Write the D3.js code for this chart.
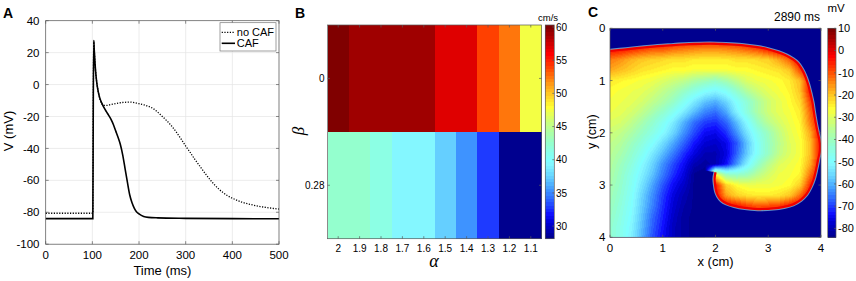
<!DOCTYPE html>
<html><head><meta charset="utf-8">
<script src="https://cdn.jsdelivr.net/npm/d3@7"></script>
<style>
body{margin:0;background:#fff}
svg{display:block}
text{font-family:"Liberation Sans",Arial,Helvetica,sans-serif;fill:#000}
</style>
</head><body>
<svg id="fig" width="856" height="281"></svg>
<script>
// ================= DATA =================
// Panel A : action potentials
const timeNoCAF = [0,101,102,103,104,106,108,110,113,116,120,125,130,140,150,160,170,180,190,200,210,220,230,240,250,260,270,280,290,300,310,320,330,340,350,360,370,380,390,400,420,440,460,480,500];
const vNoCAF    = [-80.6,-80.6,-10,27.5,22,12,5,0,-5,-9,-12,-13.1,-13.1,-12.5,-11.9,-11.4,-11.1,-11,-11.3,-12,-12.7,-13.6,-15,-17.3,-20,-22.8,-26,-29.8,-34,-38.5,-42.7,-47,-51,-55,-58.8,-62.2,-65.2,-67.7,-69.7,-71.2,-73.6,-75.2,-76.4,-77.3,-78];
const timeCAF   = [0,101,102,103,104,106,108,110,113,116,120,125,130,135,140,145,150,155,160,165,170,175,180,185,190,195,200,210,220,240,300,400,500];
const vCAF      = [-84,-84,-10,27.5,22,12,5,0,-5,-8.5,-11.5,-14.5,-17,-19.3,-21.8,-25,-29,-33,-37.5,-44,-52.5,-61,-69,-74,-77.5,-79.8,-81,-82.6,-83.2,-83.5,-83.8,-84,-84.1];
const aXTicks = [0,100,200,300,400,500];
const aYTicks = [-100,-80,-60,-40,-20,0,20,40];
const legendLabels = ["no CAF","CAF"];

// Panel B : conduction velocity (cm/s)
const alphaValues = [2,1.9,1.8,1.7,1.6,1.5,1.4,1.3,1.2,1.1];
const betaLabels  = ["0","0.28"];
const cvBeta0   = [60.3,58.8,58.8,58.8,58.8,57.0,57.0,53.9,52.3,47.6];
const cvBeta028 = [42.4,42.4,41.4,39.4,39.4,37.4,35.4,32.9,28.6,28.1];
const cbBTicks = [30,35,40,45,50,55,60];

// Panel C : membrane potential snapshot (mV), grid step 0.2 cm, rows = y 0..4, cols = x 0..4
const cmTicks = [0,1,2,3,4];
const cbCTicks = [10,0,-10,-20,-30,-40,-50,-60,-70,-80];
const snapshotTime = "2890 ms";
const vGrid = [
[-84,-84,-84,-84,-84,-84,-84,-84,-84,-84,-84,-84,-84,-84,-84,-84,-84,-84,-84,-84,-84],
[-2,-2,-2,-2,-2,-2,-2,-2,-2,-2,-2,-2,-2,-2,-2,-2,-2,-2,-2,-2,-2],
[-3,-4,-6,-8,-10,-10,-12,-13,-14,-15,-15,-14,-13,-11,-9,-5,-2,-2,-2,-2,-2],
[-13,-15,-18,-20,-21,-22,-23,-23,-24,-24,-24,-24,-23,-23,-22,-21,-17,-11,-2,-2,-2],
[-17,-19,-21,-23,-24,-25,-26,-26,-27,-27,-27,-27,-26,-26,-25,-24,-23,-20,-9,-2,-2],
[-24,-25,-26,-27,-28,-30,-32,-34,-37,-39,-41,-38,-34,-30,-28,-27,-26,-24,-19,-3,-2],
[-26,-27,-28,-29,-31,-34,-37,-41,-45,-49,-51,-48,-42,-36,-32,-29,-27,-25,-20,-4,-2],
[-27,-28,-29,-31,-34,-37,-41,-47,-53,-58,-60,-56,-49,-43,-37,-32,-29,-26,-22,-8,-2],
[-28,-29,-31,-34,-38,-42,-47,-53,-59,-64,-66,-61,-52,-44,-37,-32,-29,-27,-24,-11,-2],
[-30,-31,-34,-38,-42,-47,-53,-60,-66,-70,-71,-67,-59,-50,-41,-35,-31,-28,-25,-13,-2],
[-32,-34,-37,-41,-45,-50,-56,-63,-69,-74,-75,-71,-63,-54,-46,-40,-34,-29,-26,-17,-2],
[-34,-36,-40,-44,-49,-55,-61,-67,-73,-77,-78,-75,-68,-58,-48,-41,-35,-30,-27,-19,-3],
[-35,-38,-42,-47,-53,-59,-65,-71,-76,-80,-80,-76,-67,-57,-48,-41,-34,-30,-27,-19,-3],
[-36,-40,-44,-50,-56,-63,-69,-74,-80,-82,-80,-74,-63,-52,-42,-35,-30,-28,-26,-17,-2],
[-37,-41,-46,-52,-58,-65,-71,-76,-83,-84,-25,-40,-42,-40,-35,-31,-28,-27,-25,-12,-2],
[-38,-42,-47,-54,-61,-68,-74,-78,-83,-84,-4,-21,-26,-28,-28,-28,-27,-26,-21,-6,-2],
[-39,-43,-48,-56,-63,-70,-76,-80,-83,-84,-2,-16,-21,-23,-24,-24,-23,-20,-12,-2,-2],
[-40,-44,-49,-57,-64,-71,-77,-81,-83,-84,-2,-2,-4,-8,-10,-9,-8,-4,-2,-2,-84],
[-41,-45,-50,-58,-66,-72,-78,-82,-83,-84,-84,-2,-2,-2,-2,-2,-2,-2,-2,-84,-84],
[-42,-46,-51,-59,-67,-73,-79,-82,-83,-84,-84,-84,-84,-84,-84,-84,-84,-84,-84,-84,-84],
[-42,-46,-52,-60,-68,-74,-79,-82,-83,-84,-84,-84,-84,-84,-84,-84,-84,-84,-84,-84,-84]
];
const gridStep = 0.2;
// wave front (cm)
const frontX = [0,0.3,0.6,0.9,1.2,1.5,1.9,2.2,2.5,2.8,3.0,3.2,3.35,3.47,3.57,3.66,3.73,3.78,3.82,3.86,3.89,3.92,3.95,3.98,4.0,4.0,3.97,3.93,3.88,3.82,3.74,3.63,3.48,3.3,3.1,2.8,2.55,2.35,2.2,2.1,2.03,1.99,1.97,1.96,1.98];
const frontY = [0.41,0.38,0.35,0.32,0.30,0.28,0.27,0.28,0.30,0.34,0.38,0.44,0.50,0.57,0.65,0.78,0.93,1.08,1.24,1.42,1.62,1.80,1.95,2.08,2.2,2.35,2.5,2.7,2.9,3.05,3.19,3.30,3.39,3.44,3.47,3.48,3.46,3.42,3.37,3.31,3.22,3.12,3.0,2.88,2.75];
// closing edge of the excited/recovering region (cm)
const maskX = [1.8,1.8,0];
const maskY = [2.72,4.0,4.0];

// ================= COLORMAP (MATLAB jet, 64) =================
const U = [];
for (let k=1;k<=16;k++) U.push(k/16);
for (let k=0;k<15;k++) U.push(1);
for (let k=16;k>=1;k--) U.push(k/16);
function jet64(i){
  const idx=i+1; let r=0,g=0,b=0;
  const ri=idx-24; if(ri>=1&&ri<=40) r=U[ri-1];
  const gi=idx-8;  if(gi>=1&&gi<=47) g=U[gi-1];
  const bi=idx+8;  if(bi>=1&&bi<=47) b=U[bi-1];
  return [r,g,b];
}
const paleness = d3.scaleLinear()
  .domain([0,0.08,0.15,0.23,0.29,0.35,0.41,0.45,0.62,0.8,1])
  .range([0,0,0.12,0.25,0.4,0.52,0.45,0.38,0.2,0,0]).clamp(true);
function cmapRGB(t){
  const i=Math.max(0,Math.min(63,Math.floor(t*64)));
  const c=jet64(i); const w=paleness((i+0.5)/64);
  return c.map(v=>Math.round(255*(v+(1-v)*w)));
}
function cmap(t){const c=cmapRGB(t);return `rgb(${c[0]},${c[1]},${c[2]})`;}

// ================= DRAW =================
const svg=d3.select('#fig');
const defs=svg.append('defs');
const boxColor="#5a5a5a";

function boxAndTicks(g,x0,x1,y0,y1,xt,yt,len){
  g.append('rect').attr('x',x0).attr('y',y0).attr('width',x1-x0).attr('height',y1-y0)
    .attr('fill','none').attr('stroke',boxColor).attr('stroke-width',0.7);
  xt.forEach(x=>{
    g.append('line').attr('x1',x).attr('x2',x).attr('y1',y1).attr('y2',y1-len).attr('stroke',boxColor).attr('stroke-width',0.7);
    g.append('line').attr('x1',x).attr('x2',x).attr('y1',y0).attr('y2',y0+len).attr('stroke',boxColor).attr('stroke-width',0.7);
  });
  yt.forEach(y=>{
    g.append('line').attr('x1',x0).attr('x2',x0+len).attr('y1',y).attr('y2',y).attr('stroke',boxColor).attr('stroke-width',0.7);
    g.append('line').attr('x1',x1).attr('x2',x1-len).attr('y1',y).attr('y2',y).attr('stroke',boxColor).attr('stroke-width',0.7);
  });
}

// ---------- Panel A ----------
{
  const g=svg.append('g');
  const xA=d3.scaleLinear().domain([0,500]).range([45.7,279]);
  const yA=d3.scaleLinear().domain([-100,40]).range([244.2,20.7]);
  aXTicks.forEach(t=>g.append('line').attr('x1',xA(t)).attr('x2',xA(t)).attr('y1',yA(-100)).attr('y2',yA(40)).attr('stroke','#e4e4e4').attr('stroke-width',0.7));
  aYTicks.forEach(t=>g.append('line').attr('x1',xA(0)).attr('x2',xA(500)).attr('y1',yA(t)).attr('y2',yA(t)).attr('stroke','#e4e4e4').attr('stroke-width',0.7));
  const line=d3.line().x(d=>xA(d[0])).y(d=>yA(d[1])).curve(d3.curveMonotoneX);
  g.append('path').attr('d',line(d3.zip(timeNoCAF,vNoCAF))).attr('fill','none').attr('stroke','#000').attr('stroke-width',1.3).attr('stroke-dasharray','1.2 1.5');
  g.append('path').attr('d',line(d3.zip(timeCAF,vCAF))).attr('fill','none').attr('stroke','#000').attr('stroke-width',1.6);
  boxAndTicks(g,xA(0),xA(500),yA(40),yA(-100),aXTicks.map(xA),aYTicks.map(yA),3);
  aXTicks.forEach(t=>g.append('text').attr('x',xA(t)).attr('y',259.2).attr('text-anchor','middle').attr('font-size',11.5).text(String(t)));
  aYTicks.forEach(t=>g.append('text').attr('x',39.5).attr('y',yA(t)+4.1).attr('text-anchor','end').attr('font-size',11.5).text(String(t)));
  g.append('text').attr('x',162.4).attr('y',275.3).attr('text-anchor','middle').attr('font-size',13).text('Time (ms)');
  g.append('text').attr('transform','translate(12.5,131) rotate(-90)').attr('text-anchor','middle').attr('font-size',13).text('V (mV)');
  // legend
  g.append('rect').attr('x',220).attr('y',22.7).attr('width',56).attr('height',28.3).attr('fill','#fff').attr('stroke','#777').attr('stroke-width',0.7);
  const ly=[32.3,43.3];
  g.append('line').attr('x1',221.7).attr('x2',235).attr('y1',ly[0]).attr('y2',ly[0]).attr('stroke','#000').attr('stroke-width',1.3).attr('stroke-dasharray','1.2 1.5');
  g.append('line').attr('x1',221.7).attr('x2',235).attr('y1',ly[1]).attr('y2',ly[1]).attr('stroke','#000').attr('stroke-width',1.6);
  legendLabels.forEach((s,i)=>g.append('text').attr('x',236.8).attr('y',ly[i]+4).attr('font-size',11).text(s));
  g.append('text').attr('x',3).attr('y',18.3).attr('font-size',14).attr('font-weight','bold').text('A');
}

// ---------- Panel B ----------
{
  const g=svg.append('g');
  const xB=d3.scaleLinear().domain([2.05,1.05]).range([327.5,541.5]);
  const yB=d3.scaleBand().domain(betaLabels).range([25,238.7]);
  const rows=[cvBeta0,cvBeta028];
  const ext=d3.extent(rows.flat());
  const tB=d3.scaleLinear().domain(ext).range([0,0.99999]);
  const cells=g.append('g').attr('shape-rendering','crispEdges');
  rows.forEach((row,r)=>row.forEach((v,c)=>{
    const a=alphaValues[c];
    const xl=xB(a+0.05), xr=xB(a-0.05);
    cells.append('rect').attr('x',xl).attr('y',yB(betaLabels[r])).attr('width',xr-xl+0.6).attr('height',yB.bandwidth()+(r===0?0.6:0))
      .attr('fill',cmap(tB(v)));
  }));
  const xt=alphaValues.map(a=>xB(a));
  const yt=betaLabels.map(b=>yB(b)+yB.bandwidth()/2);
  boxAndTicks(g,327.5,541.5,25,238.7,xt,yt,2.5);
  alphaValues.forEach(a=>g.append('text').attr('x',xB(a)).attr('y',252).attr('text-anchor','middle').attr('font-size',10).text(String(a)));
  betaLabels.forEach(b=>g.append('text').attr('x',324.5).attr('y',yB(b)+yB.bandwidth()/2+3.6).attr('text-anchor','end').attr('font-size',10).text(b));
  g.append('text').attr('x',434).attr('y',266.5).attr('text-anchor','middle').attr('font-size',18).attr('font-style','italic').style('font-family','"Liberation Serif","DejaVu Serif",serif').text('α');
  g.append('text').attr('transform','translate(304,131) rotate(-90)').attr('text-anchor','middle').attr('font-size',17).attr('font-style','italic').style('font-family','"Liberation Serif","DejaVu Serif",serif').text('β');
  // colorbar
  const yCb=d3.scaleLinear().domain(ext).range([238.7,25]);
  const cb=g.append('g').attr('shape-rendering','crispEdges');
  for(let k=0;k<64;k++){
    const v0=ext[0]+k/64*(ext[1]-ext[0]), v1=ext[0]+(k+1)/64*(ext[1]-ext[0]);
    cb.append('rect').attr('x',545.3).attr('y',yCb(v1)).attr('width',9).attr('height',yCb(v0)-yCb(v1)+0.5).attr('fill',cmap((k+0.5)/64));
  }
  g.append('rect').attr('x',545.3).attr('y',25).attr('width',9).attr('height',213.7).attr('fill','none').attr('stroke',boxColor).attr('stroke-width',0.7);
  cbBTicks.forEach(t=>{
    g.append('line').attr('x1',554.3).attr('x2',552.3).attr('y1',yCb(t)).attr('y2',yCb(t)).attr('stroke',boxColor).attr('stroke-width',0.7);
    g.append('text').attr('x',556).attr('y',yCb(t)+3.6).attr('font-size',10).text(String(t));
  });
  g.append('text').attr('x',548).attr('y',20.5).attr('text-anchor','middle').attr('font-size',9.5).text('cm/s');
  g.append('text').attr('x',295).attr('y',17.5).attr('font-size',14).attr('font-weight','bold').text('B');
}

// ---------- Panel C ----------
{
  const g=svg.append('g');
  const xC=d3.scaleLinear().domain([0,4]).range([610,821]);
  const yC=d3.scaleLinear().domain([0,4]).range([28.3,237.3]);
  const vDom=[-84,10];
  const tC=d3.scaleLinear().domain(vDom).range([0,0.99999]).clamp(true);
  const W=Math.round(xC(4)-xC(0)), H=Math.round(yC(4)-yC(0));
  const cv=document.createElement('canvas'); cv.width=W; cv.height=H;
  const ctx=cv.getContext('2d'); const img=ctx.createImageData(W,H);
  const nI=vGrid[0].length-1, nJ=vGrid.length-1;
  for(let py=0;py<H;py++){
    const yc=yC.invert(yC(0)+(py+0.5)*(yC(4)-yC(0))/H);
    const fj=yc/gridStep; const j0=Math.max(0,Math.min(nJ-1,Math.floor(fj))); const fy=fj-j0;
    for(let px=0;px<W;px++){
      const xc=xC.invert(xC(0)+(px+0.5)*(xC(4)-xC(0))/W);
      const fi=xc/gridStep; const i0=Math.max(0,Math.min(nI-1,Math.floor(fi))); const fx=fi-i0;
      const v=(vGrid[j0][i0]*(1-fx)+vGrid[j0][i0+1]*fx)*(1-fy)+(vGrid[j0+1][i0]*(1-fx)+vGrid[j0+1][i0+1]*fx)*fy;
      const c=cmapRGB(tC(v)); const o=4*(py*W+px);
      img.data[o]=c[0]; img.data[o+1]=c[1]; img.data[o+2]=c[2]; img.data[o+3]=255;
    }
  }
  ctx.putImageData(img,0,0);
  const pts=d3.zip(frontX,frontY);
  const fl=d3.line().x(d=>xC(d[0])).y(d=>yC(d[1])).curve(d3.curveCatmullRom);
  const maskPath=fl(pts)+d3.zip(maskX,maskY).map(p=>`L${xC(p[0])},${yC(p[1])}`).join('')+'Z';
  defs.append('clipPath').attr('id','waveMask').append('path').attr('d',maskPath);
  defs.append('clipPath').attr('id','plotC').append('rect').attr('x',xC(0)).attr('y',yC(0)).attr('width',xC(4)-xC(0)).attr('height',yC(4)-yC(0));
  g.append('rect').attr('x',xC(0)).attr('y',yC(0)).attr('width',xC(4)-xC(0)).attr('height',yC(4)-yC(0)).attr('fill',cmap(tC(vDom[0])));
  g.append('image').attr('x',xC(0)).attr('y',yC(0)).attr('width',xC(4)-xC(0)).attr('height',yC(4)-yC(0))
    .attr('preserveAspectRatio','none').attr('href',cv.toDataURL()).attr('clip-path','url(#waveMask)');
  const pc=g.append('g').attr('clip-path','url(#plotC)');
  pc.append('path').attr('d',fl(pts)).attr('fill','none').attr('stroke','#a6f2ee').attr('stroke-width',2).attr('stroke-linecap','butt').attr('opacity',0.6);
  const inner=pc.append('g').attr('clip-path','url(#waveMask)');
  inner.append('path').attr('d',fl(pts)).attr('fill','none').attr('stroke',cmap(tC(-1))).attr('stroke-width',4.5);
  boxAndTicks(g,xC(0),xC(4),yC(0),yC(4),cmTicks.map(xC),cmTicks.map(yC),2.5);
  cmTicks.forEach(t=>g.append('text').attr('x',xC(t)).attr('y',252.4).attr('text-anchor','middle').attr('font-size',11.5).text(String(t)));
  cmTicks.forEach(t=>g.append('text').attr('x',605.5).attr('y',yC(t)+4.1).attr('text-anchor','end').attr('font-size',11.5).text(String(t)));
  g.append('text').attr('x',715.5).attr('y',265.5).attr('text-anchor','middle').attr('font-size',13).text('x (cm)');
  g.append('text').attr('transform','translate(595.7,131.7) rotate(-90)').attr('text-anchor','middle').attr('font-size',12.5).text('y (cm)');
  g.append('text').attr('x',820).attr('y',20.5).attr('text-anchor','end').attr('font-size',12).text(snapshotTime);
  // colorbar
  const yCb=d3.scaleLinear().domain(vDom).range([237.3,28.3]);
  const cb=g.append('g').attr('shape-rendering','crispEdges');
  for(let k=0;k<64;k++){
    const v0=vDom[0]+k/64*(vDom[1]-vDom[0]), v1=vDom[0]+(k+1)/64*(vDom[1]-vDom[0]);
    cb.append('rect').attr('x',827.7).attr('y',yCb(v1)).attr('width',8.3).attr('height',yCb(v0)-yCb(v1)+0.5).attr('fill',cmap((k+0.5)/64));
  }
  g.append('rect').attr('x',827.7).attr('y',28.3).attr('width',8.3).attr('height',209).attr('fill','none').attr('stroke',boxColor).attr('stroke-width',0.7);
  cbCTicks.forEach(t=>{
    g.append('line').attr('x1',836).attr('x2',834).attr('y1',yCb(t)).attr('y2',yCb(t)).attr('stroke',boxColor).attr('stroke-width',0.7);
    g.append('text').attr('x',838).attr('y',yCb(t)+3.9).attr('font-size',11).text(String(t));
  });
  g.append('text').attr('x',827.5).attr('y',12).attr('font-size',11.5).text('mV');
  g.append('text').attr('x',588).attr('y',17).attr('font-size',14).attr('font-weight','bold').text('C');
}
</script>
</body></html>
